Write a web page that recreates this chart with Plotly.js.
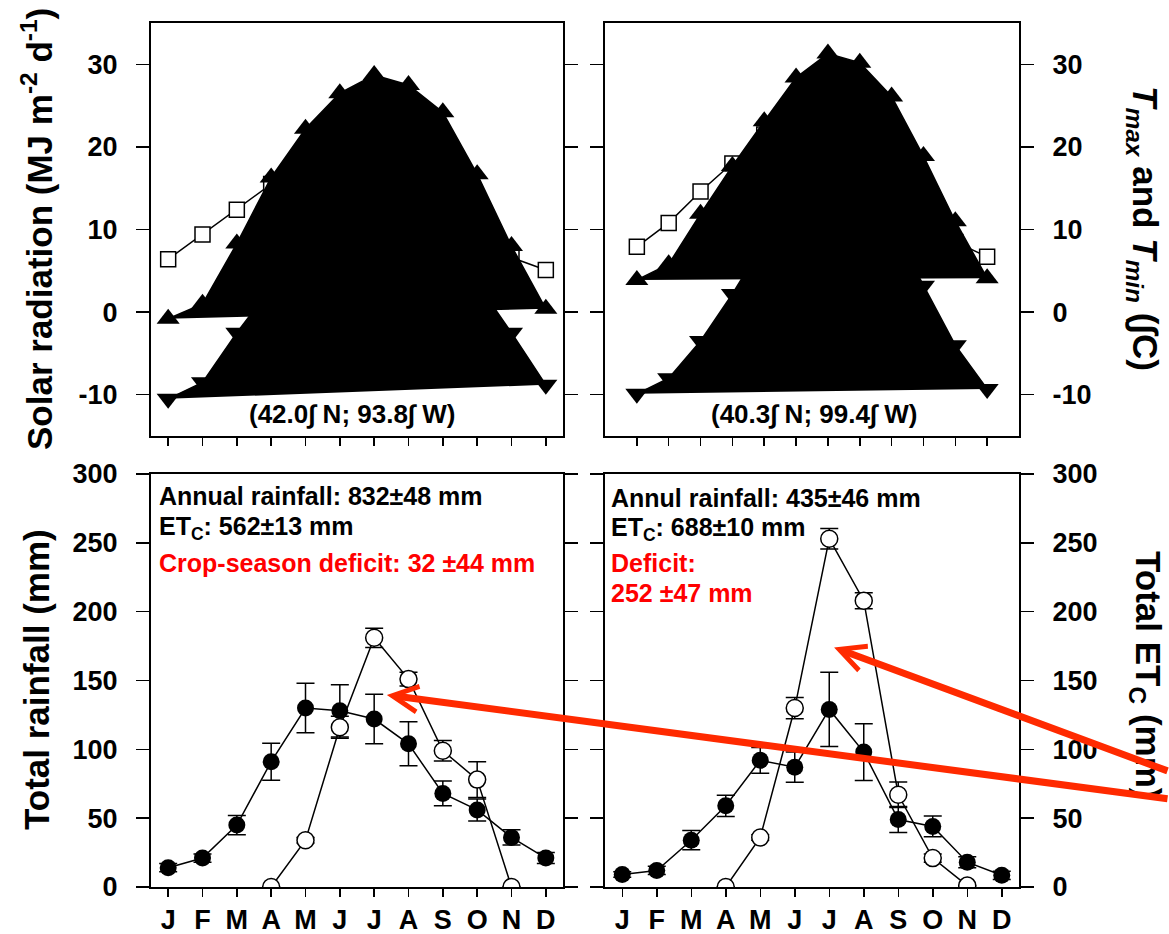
<!DOCTYPE html>
<html>
<head>
<meta charset="utf-8">
<script src="https://cdn.plot.ly/plotly-3.0.1.min.js"></script>
<style>html,body{margin:0;padding:0;background:#fff;}#chart{width:1169px;height:934px;}</style>
</head>
<body>
<div id="chart"></div>
<script>
// ---- data ----
const months = ['J','F','M','A','M','J','J','A','S','O','N','D'];
const monthNum = [1,2,3,4,5,6,7,8,9,10,11,12];

// Ames (top-left / bottom-left)
const amesSrad = [6.4, 9.4, 12.4, 15.5, 19.5, 22.0, 22.5, 19.5, 15.5, 11.0, 6.6, 5.1];
const amesTmax = [-0.8, 1.0, 8.3, 16.3, 22.2, 26.5, 28.7, 27.5, 24.2, 16.7, 8.0, 0.4];
const amesTmin = [-10.5, -8.5, -2.5, 3.0, 9.0, 14.5, 17.0, 15.5, 10.5, 3.5, -2.5, -8.8];
const amesRain = [14, 21, 45, 91, 130, 128, 122, 104, 68, 56, 36, 21];
const amesRainErr = [3, 3, 7, 13.5, 18, 19, 18, 16, 9, 8, 5.5, 4];
const amesEtc = [null, null, null, 0, 34, 116, 181, 151, 99, 78, 0, null];
const amesEtcErr = [null, null, null, 0, 2, 8, 7, 5, 7.5, 13, 0, null];

// Mead (top-right / bottom-right)
const meadSrad = [7.9, 10.8, 14.6, 18.0, 21.5, 24.5, 25.0, 22.0, 17.5, 12.5, 8.5, 6.7];
const meadTmax = [3.9, 5.8, 11.9, 17.7, 23.1, 28.4, 31.3, 30.2, 26.1, 18.9, 11.0, 4.1];
const meadTmin = [-9.9, -8.0, -3.5, 2.2, 8.5, 14.5, 17.5, 16.0, 10.5, 3.2, -4.0, -9.3];
const meadRain = [9, 12, 34, 59, 92, 87, 129, 98, 49, 44, 18, 8.5];
const meadRainErr = [2, 3, 7, 7.7, 9.3, 11, 27, 20.6, 9.5, 7.5, 4, 3];
const meadEtc = [null, null, null, 0, 36, 130, 253, 208, 67, 21, 1, null];
const meadEtcErr = [null, null, null, 0, 2, 7.7, 7.4, 5.8, 9.2, 3, 0, null];

const tempTicks = [-10, 0, 10, 20, 30];
const tempTickText = ['-10', '0', '10', '20', '30'];
const mmTicks = [0, 50, 100, 150, 200, 250, 300];
const mmTickText = ['0', '50', '100', '150', '200', '250', '300'];

// ---- traces ----
const LW = 1.5;
function sradTrace(y, xa, ya) {
  return {x: monthNum, y: y, xaxis: xa, yaxis: ya, type: 'scatter', mode: 'lines+markers',
    line: {color: 'black', width: LW},
    marker: {symbol: 'square', size: 15, color: 'white', line: {color: 'black', width: 1.5}},
    hoverinfo: 'skip'};
}
function tempTrace(y, xa, ya, sym) {
  return {x: monthNum, y: y, xaxis: xa, yaxis: ya, type: 'scatter', mode: 'lines+markers',
    fill: 'toself', fillcolor: 'black',
    line: {color: 'black', width: LW},
    marker: {symbol: sym, size: 20, color: 'black'},
    hoverinfo: 'skip'};
}
function rainTrace(y, err, xa, ya) {
  return {x: monthNum, y: y, xaxis: xa, yaxis: ya, type: 'scatter', mode: 'lines+markers',
    line: {color: 'black', width: LW},
    marker: {symbol: 'circle', size: 17, color: 'black'},
    error_y: {type: 'data', array: err, visible: true, color: 'black', thickness: 1.5, width: 9},
    hoverinfo: 'skip'};
}
function etcTrace(y, err, xa, ya) {
  return {x: monthNum, y: y, xaxis: xa, yaxis: ya, type: 'scatter', mode: 'lines+markers',
    line: {color: 'black', width: LW},
    marker: {symbol: 'circle', size: 17, color: 'white', line: {color: 'black', width: 1.5}},
    error_y: {type: 'data', array: err, visible: true, color: 'black', thickness: 1.5, width: 9},
    hoverinfo: 'skip'};
}

const data = [
  sradTrace(amesSrad, 'x', 'y'),
  tempTrace(amesTmax, 'x', 'y', 'triangle-up'),
  tempTrace(amesTmin, 'x', 'y', 'triangle-down'),
  sradTrace(meadSrad, 'x2', 'y2'),
  tempTrace(meadTmax, 'x2', 'y2', 'triangle-up'),
  tempTrace(meadTmin, 'x2', 'y2', 'triangle-down'),
  rainTrace(amesRain, amesRainErr, 'x3', 'y3'),
  etcTrace(amesEtc, amesEtcErr, 'x3', 'y3'),
  rainTrace(meadRain, meadRainErr, 'x4', 'y4'),
  etcTrace(meadEtc, meadEtcErr, 'x4', 'y4')
];

// ---- layout ----
const W = 1169, H = 934;
const px = v => v / W;
const py = v => 1 - v / H;
const xDomL = [px(151), px(563)];
const xDomR = [px(605), px(1019)];
const yDomT = [py(436), py(23)];
const yDomB = [py(887), py(474)];
const FONT = 'Liberation Sans, Arial, Helvetica, sans-serif';

function xAxis(domain, anchor, range, labels) {
  return {domain: domain, anchor: anchor, range: range,
    tickmode: 'array', tickvals: monthNum, ticktext: months,
    showticklabels: labels, ticks: 'outside', ticklen: 8, tickwidth: 1.5, tickcolor: 'black',
    ticklabelstandoff: 0,
    showline: true, linewidth: 2, linecolor: 'black', mirror: true,
    showgrid: false, zeroline: false, fixedrange: true,
    tickfont: {family: FONT, size: 27, color: 'black', weight: 'bold'}};
}
function yAxis(domain, anchor, range, vals, text, side) {
  return {domain: domain, anchor: anchor, range: range, side: side,
    tickmode: 'array', tickvals: vals, ticktext: text,
    ticks: 'outside', ticklen: 13, tickwidth: 1.5, tickcolor: 'black',
    ticklabelstandoff: 13,
    showline: true, linewidth: 2, linecolor: 'black', mirror: 'allticks',
    showgrid: false, zeroline: false, fixedrange: true,
    tickfont: {family: FONT, size: 27, color: 'black', weight: 'bold'}};
}

const RED = '#ff0000';
const ARROW = '#ff2a00';
function txt(text, x, y, opts) {
  return Object.assign({text: text, xref: 'paper', yref: 'paper', x: px(x), y: py(y),
    xanchor: 'left', yanchor: 'middle', showarrow: false,
    font: {family: FONT, size: 25, color: 'black', weight: 'bold'}}, opts || {});
}
const titleFont = {family: FONT, size: 35, color: 'black', weight: 'bold'};
const redFont = {family: FONT, size: 25, color: RED, weight: 'bold'};

const annotations = [
  // axis titles
  txt('Solar radiation (MJ m<sup>-2</sup> d<sup>-1</sup>)', 37, 229,
      {xanchor: 'center', textangle: -90, font: titleFont}),
  txt('Total rainfall (mm)', 36, 680,
      {xanchor: 'center', textangle: -90, font: titleFont}),
  txt('<i>T</i><sub><i>max</i></sub> and <i>T</i><sub><i>min</i></sub> (\u222BC)', 1143, 228,
      {xanchor: 'center', textangle: 90, font: titleFont}),
  txt('Total ET<sub>C</sub> (mm)', 1146, 675,
      {xanchor: 'center', textangle: 90, font: titleFont}),
  // site coordinates
  txt('(42.0\u222B N; 93.8\u222B W)', 352, 414, {xanchor: 'center', font: {family: FONT, size: 26, color: 'black', weight: 'bold'}}),
  txt('(40.3\u222B N; 99.4\u222B W)', 814, 414, {xanchor: 'center', font: {family: FONT, size: 26, color: 'black', weight: 'bold'}}),
  // bottom-left text
  txt('Annual rainfall: 832±48 mm', 157, 495.5),
  txt('ET<sub>C</sub>: 562±13 mm', 157, 528),
  txt('Crop-season deficit: 32 ±44 mm', 157, 562.5, {font: redFont}),
  // bottom-right text
  txt('Annul rainfall: 435±46 mm', 609, 497.5),
  txt('ET<sub>C</sub>: 688±10 mm', 609, 529),
  txt('Deficit:', 609, 562.5, {font: redFont}),
  txt('252 ±47 mm', 609, 592.5, {font: redFont}),
  // arrows
  {text: '', xref: 'x3', yref: 'y3', x: 7.37, y: 139.5, ax: 800, ay: 104, showarrow: true,
   arrowhead: 5, arrowsize: 0.72, arrowwidth: 7, arrowcolor: ARROW, standoff: 0},
  {text: '', xref: 'x4', yref: 'y4', x: 7.14, y: 174, ax: 400, ay: 124, showarrow: true,
   arrowhead: 5, arrowsize: 0.72, arrowwidth: 7, arrowcolor: ARROW, standoff: 0}
];

const layout = {
  width: W, height: H,
  margin: {l: 0, r: 0, t: 0, b: 0, pad: 0},
  paper_bgcolor: 'white', plot_bgcolor: 'white',
  showlegend: false,
  font: {family: FONT, size: 27, color: 'black', weight: 'bold'},
  xaxis: xAxis(xDomL, 'y', [0.5, 12.5], false),
  yaxis: yAxis(yDomT, 'x', [-15, 35], tempTicks, tempTickText, 'left'),
  xaxis2: xAxis(xDomR, 'y2', [0, 13], false),
  yaxis2: yAxis(yDomT, 'x2', [-15, 35], tempTicks, tempTickText, 'right'),
  xaxis3: xAxis(xDomL, 'y3', [0.5, 12.5], true),
  yaxis3: yAxis(yDomB, 'x3', [0, 300], mmTicks, mmTickText, 'left'),
  xaxis4: xAxis(xDomR, 'y4', [0.5, 12.5], true),
  yaxis4: yAxis(yDomB, 'x4', [0, 300], mmTicks, mmTickText, 'right'),
  annotations: annotations
};

Plotly.newPlot('chart', data, layout, {displayModeBar: false, staticPlot: true});
</script>
</body>
</html>
